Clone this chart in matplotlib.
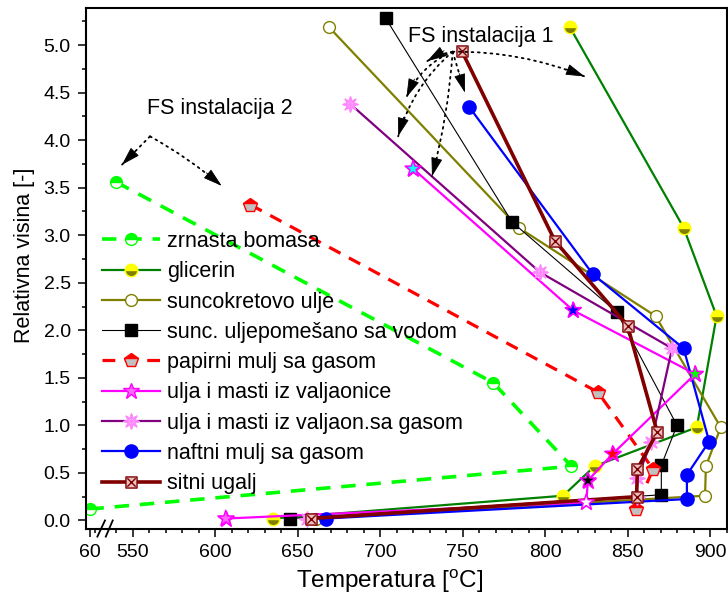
import numpy as np
import matplotlib
matplotlib.use("Agg")
import matplotlib.pyplot as plt
from matplotlib.path import Path

plt.rcParams['font.family'] = 'Liberation Sans'
plt.rcParams['mathtext.fontset'] = 'custom'
plt.rcParams['mathtext.rm'] = 'Liberation Sans'

# ------------------------------------------------------
# data: temperature [C] and relative height [-]
labels = ['zrnasta bomasa', 'glicerin', 'suncokretovo ulje',
          'sunc. uljepomešano sa vodom', 'papirni mulj sa gasom',
          'ulja i masti iz valjaonice', 'ulja i masti iz valjaon.sa gasom',
          'naftni mulj sa gasom', 'sitni ugalj']

zrnasta_T = [540, 768.5, 816, 60]
zrnasta_h = [3.56, 1.45, 0.57, 0.12]
glicerin_T = [815, 884, 904, 892, 830, 811, 635]
glicerin_h = [5.19, 3.08, 2.15, 0.98, 0.57, 0.26, 0.02]
sunc_T = [669, 784, 867, 906.5, 897.5, 897, 661.5]
sunc_h = [5.19, 3.08, 2.15, 0.98, 0.57, 0.26, 0.02]
voda_T = [703.5, 780, 843.5, 880, 870.5, 870.5, 645.5]
voda_h = [5.28, 3.14, 2.19, 1.00, 0.58, 0.27, 0.02]
papir_T = [621.5, 832, 865.5, 855]
papir_h = [3.32, 1.35, 0.54, 0.12]
valj_T = [720, 817, 891, 841, 826, 825, 606.5]
valj_h = [3.70, 2.21, 1.54, 0.70, 0.42, 0.19, 0.02]
valj_face = ['cyan', 'blue', '#00FF00', 'red', 'black', 'white', '#FF66FF']
gas_T = [682, 797, 877, 864.5, 856, 855.5, 656]
gas_h = [4.38, 2.61, 1.81, 0.83, 0.45, 0.25, 0.02]
nafta_T = [754, 829, 884, 899.5, 886, 886, 667]
nafta_h = [4.35, 2.59, 1.81, 0.83, 0.48, 0.225, 0.02]
ugalj_T = [749.5, 806, 850, 868, 856, 855.5, 658]
ugalj_h = [4.94, 2.94, 2.05, 0.93, 0.54, 0.25, 0.02]

xtick_vals = [60, 550, 600, 650, 700, 750, 800, 850, 900]
ytick_vals = [0.0, 0.5, 1.0, 1.5, 2.0, 2.5, 3.0, 3.5, 4.0, 4.5, 5.0]

# arrows: start point, end points, curvature
fs1_origin = (744, 4.93)
fs1_heads = [(824, 4.67), (728.5, 4.83), (716, 4.45), (711, 4.04), (731.5, 3.62), (751.5, 4.50)]
fs1_rads = [-0.1, 0.1, 0.2, 0.15, -0.05, 0.0]
fs2_origin = (560.6, 4.04)
fs2_heads = [(543.5, 3.74), (604, 3.52)]
fs2_rads = [0.0, -0.05]

# broken axis: 60 C is drawn just left of the break
X60 = 524


def pos(t):
    return [X60 + (v - 60) if v < 500 else v for v in t]


# custom markers
box_x = Path([(-1, -1), (1, -1), (1, 1), (-1, 1), (-1, -1),
              (-0.75, -0.75), (0.75, 0.75), (-0.75, 0.75), (0.75, -0.75)],
             [Path.MOVETO, Path.LINETO, Path.LINETO, Path.LINETO, Path.CLOSEPOLY,
              Path.MOVETO, Path.LINETO, Path.MOVETO, Path.LINETO])
ang = np.pi / 2 + np.arange(16) * np.pi / 8
rr = np.where(np.arange(16) % 2 == 0, 1.0, 0.45)
pts = np.column_stack([rr * np.cos(ang), rr * np.sin(ang)])
sv = [tuple(p) for p in pts] + [tuple(pts[0])]
sc = [Path.MOVETO] + [Path.LINETO] * 15 + [Path.CLOSEPOLY]
for k in range(0, 16, 2):
    sv += [(0, 0), tuple(pts[k])]
    sc += [Path.MOVETO, Path.LINETO]
snow = Path(sv, sc)

# ------------------------------------------------------
fig = plt.figure(figsize=(7.28, 5.97), dpi=100)
ax = fig.add_axes([86 / 728, 1 - 529 / 597, (727 - 86) / 728, (529 - 8) / 597])
ax.set_xlim(521.8, 910.3)
ax.set_ylim(-0.09, 5.39)

ax.plot(pos(zrnasta_T), zrnasta_h, color='#00FF00', lw=2.6, dashes=(4, 3),
        marker='o', ms=8.5, fillstyle='top', mfc='#00FF00', mfcalt='white',
        mec='#00FF00', label=labels[0])
ax.plot(glicerin_T, glicerin_h, color='#008000', lw=1.6,
        marker='o', ms=9, fillstyle='top', mfc='yellow', mfcalt='#808000',
        mec='yellow', label=labels[1])
ax.plot(sunc_T, sunc_h, color='#808000', lw=1.6,
        marker='o', ms=8.5, mfc='white', mec='#808000', mew=1, label=labels[2])
ax.plot(voda_T, voda_h, color='black', lw=0.8,
        marker='s', ms=8.5, mfc='black', mec='black', label=labels[3])
ax.plot(papir_T, papir_h, color='red', lw=2.3, dashes=(4, 3),
        marker='p', ms=10, fillstyle='top', mfc='red', mfcalt='#C0C0C0',
        mec='red', label=labels[4])
ax.plot(valj_T, valj_h, color='#FF00FF', lw=1.6,
        marker='*', ms=12, mfc='#FF66FF', mec='#FF00FF', mew=1, label=labels[5])
ax.scatter(valj_T, valj_h, marker='*', s=12 ** 2, c=valj_face,
           edgecolors='#FF00FF', linewidths=1, zorder=3)
ax.plot(gas_T, gas_h, color='#800080', lw=1.6,
        marker=snow, ms=11, mfc='white', mec='#FF88FF', mew=1, label=labels[6])
ax.plot(nafta_T, nafta_h, color='blue', lw=1.6,
        marker='o', ms=9.5, mfc='blue', mec='blue', label=labels[7])
ax.plot(ugalj_T, ugalj_h, color='#800000', lw=2.6,
        marker=box_x, ms=8, mfc='#E8C0C0', mec='#800000', mew=1, label=labels[8])

# annotations
ax.text(717, 5.03, 'FS instalacija 1', fontsize=15.5, ha='left', va='baseline')
ax.text(558.6, 4.28, 'FS instalacija 2', fontsize=15.5, ha='left', va='baseline')


def draw_arrow(origin, head, rad):
    # dotted curved shaft
    ax.annotate('', xy=head, xytext=origin,
                arrowprops=dict(arrowstyle='-', linestyle=(0, (1, 2.5)), lw=1.3,
                                color='black', connectionstyle=f'arc3,rad={rad}',
                                shrinkA=0, shrinkB=0))
    # solid head along the end tangent of the arc
    a = ax.transData.transform(origin)
    b = ax.transData.transform(head)
    d = b - a
    c = (a + b) / 2 + rad * np.array([d[1], -d[0]])
    t = (b - c) / np.hypot(*(b - c))
    base = ax.transData.inverted().transform(b - t * 20)
    ax.annotate('', xy=head, xytext=base,
                arrowprops=dict(arrowstyle='-|>,head_length=1.0,head_width=0.3',
                                lw=0.6, color='black', shrinkA=0, shrinkB=0,
                                mutation_scale=12))


for origin, heads, rads in [(fs1_origin, fs1_heads, fs1_rads), (fs2_origin, fs2_heads, fs2_rads)]:
    for hd, r in zip(heads, rads):
        draw_arrow(origin, hd, r)

# axes
ax.set_xticks(pos(xtick_vals))
ax.set_xticklabels([str(v) for v in xtick_vals])
ax.set_xticks([527.5] + [v for v in range(540, 911, 10) if v % 50 != 0], minor=True)
ax.set_yticks(ytick_vals)
ax.set_yticklabels([f'{v:.1f}' for v in ytick_vals])
ax.set_yticks(np.arange(0.25, 5.3, 0.5), minor=True)
ax.tick_params(which='major', direction='out', length=6, width=1.1, labelsize=14, pad=5)
ax.tick_params(which='minor', direction='out', length=3, width=1.1)
for s in ax.spines.values():
    s.set_linewidth(1.5)

# axis break marks
for x0, x1 in [(528.7, 533.3), (533.8, 538.0)]:
    ax.plot([x0, x1], [-0.17, 0.0], color='black', lw=1.3, clip_on=False)

ax.set_xlabel(r'Temperatura [$^{\mathrm{o}}$C]', fontsize=17.5)
ax.set_ylabel('Relativna visina [-]', fontsize=15.5)
ax.xaxis.set_label_coords(0.474, -0.073)
ax.yaxis.set_label_coords(-0.079, 0.526)

ax.legend(loc='upper left', bbox_to_anchor=(0.0245, 0.572), frameon=False,
          fontsize=15.5, handlelength=2.7, handletextpad=0.35, labelspacing=0.43,
          borderaxespad=0, borderpad=0)

fig.savefig('out.png', dpi=100)
